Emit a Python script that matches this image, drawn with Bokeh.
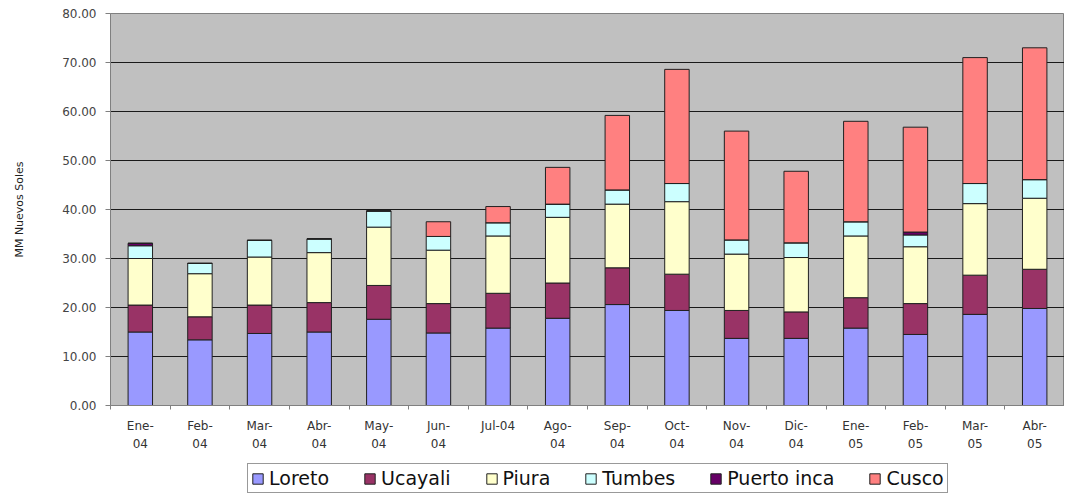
from bokeh.plotting import figure
from bokeh.models import (ColumnDataSource, Legend, LegendItem, FixedTicker,
                          NumeralTickFormatter, Range1d)
from bokeh.layouts import column
from bokeh.embed import file_html
from bokeh.resources import INLINE

months = ["Ene-\n04", "Feb-\n04", "Mar-\n04", "Abr-\n04", "May-\n04", "Jun-\n04",
          "Jul-04", "Ago-\n04", "Sep-\n04", "Oct-\n04", "Nov-\n04", "Dic-\n04",
          "Ene-\n05", "Feb-\n05", "Mar-\n05", "Abr-\n05"]
series_names = ["Loreto", "Ucayali", "Piura", "Tumbes", "Puerto inca", "Cusco"]
colors = ["#9999FF", "#993366", "#FFFFCC", "#CCFFFF", "#660066", "#FF8080"]

loreto = [15.0, 13.4, 14.7, 15.0, 17.6, 14.8, 15.8, 17.8, 20.6, 19.4, 13.7, 13.7, 15.8, 14.5, 18.6, 19.8]
ucayali = [5.5, 4.7, 5.8, 6.0, 6.9, 6.0, 7.1, 7.2, 7.5, 7.4, 5.7, 5.4, 6.2, 6.3, 8.0, 8.0]
piura = [9.5, 8.8, 9.8, 10.2, 11.9, 10.9, 11.7, 13.4, 13.0, 14.8, 11.5, 11.1, 12.6, 11.6, 14.6, 14.5]
tumbes = [2.6, 2.1, 3.4, 2.8, 3.3, 2.8, 2.7, 2.7, 2.9, 3.7, 2.9, 3.0, 2.9, 2.4, 4.1, 3.8]
puerto_inca = [0.5, 0, 0, 0, 0, 0, 0, 0, 0, 0, 0, 0, 0, 0.6, 0, 0]
cusco = [0, 0, 0, 0, 0, 3.0, 3.3, 7.5, 15.2, 23.3, 22.2, 14.6, 20.5, 21.4, 25.7, 26.9]

y_ticks = [0, 10, 20, 30, 40, 50, 60, 70, 80]

xs = list(range(len(months)))
data = {"x": xs, "Loreto": loreto, "Ucayali": ucayali, "Piura": piura,
        "Tumbes": tumbes, "Puerto inca": puerto_inca, "Cusco": cusco}
source = ColumnDataSource(data)

W = 1064
p = figure(width=W, height=462, output_backend="svg", toolbar_location=None,
           x_range=Range1d(-0.5, len(months) - 0.5), y_range=Range1d(0, 80),
           min_border_left=110, min_border_top=13, min_border_right=0,
           min_border_bottom=57)
p.background_fill_color = "#C0C0C0"
p.border_fill_color = "white"
p.outline_line_color = "#808080"
p.outline_line_width = 1

renderers = p.vbar_stack(series_names, x="x", width=0.41, source=source,
                         fill_color=colors, line_color="#202020", line_width=1)

# grid
p.xgrid.visible = False
p.ygrid.ticker = FixedTicker(ticks=y_ticks)
p.ygrid.grid_line_color = "#1a1a1a"
p.ygrid.grid_line_width = 1

# y axis
p.yaxis.ticker = FixedTicker(ticks=y_ticks)
p.yaxis.formatter = NumeralTickFormatter(format="0.00")
p.yaxis.axis_label = "MM Nuevos Soles"
p.yaxis.axis_label_text_font = "DejaVu Sans"
p.yaxis.axis_label_text_font_size = "11px"
p.yaxis.axis_label_text_font_style = "normal"
p.yaxis.axis_label_text_color = "#222222"
p.yaxis.axis_label_standoff = 33
p.yaxis.major_label_text_font = "DejaVu Sans"
p.yaxis.major_label_text_font_size = "12px"
p.yaxis.major_label_text_color = "#444444"
p.yaxis.axis_line_color = "#808080"
p.yaxis.major_tick_line_color = "#808080"
p.yaxis.major_tick_out = 5
p.yaxis.major_tick_in = 0
p.yaxis.minor_tick_line_color = None
p.yaxis.major_label_standoff = 9

# x axis
boundaries = [i + 0.5 for i in range(-1, len(months))]
p.xaxis.ticker = FixedTicker(ticks=xs, minor_ticks=boundaries)
p.xaxis.major_label_overrides = {i: m for i, m in enumerate(months)}
p.xaxis.major_label_text_font = "DejaVu Sans"
p.xaxis.major_label_text_font_size = "12px"
p.xaxis.major_label_text_color = "#333333"
p.xaxis.major_label_text_line_height = 1.3
p.xaxis.axis_line_color = "#808080"
p.xaxis.major_tick_line_color = None
p.xaxis.minor_tick_line_color = "#808080"
p.xaxis.minor_tick_out = 4
p.xaxis.minor_tick_in = 0
p.xaxis.major_label_standoff = 7

# legend strip below the chart (swatches kept out of view)
lg = figure(width=W, height=33, output_backend="svg", toolbar_location=None,
            x_range=Range1d(0, 1), y_range=Range1d(0, 1),
            min_border_left=0, min_border_right=0, min_border_top=0, min_border_bottom=0)
lg.axis.visible = False
lg.grid.visible = False
lg.outline_line_color = None
lg.background_fill_color = "white"
swatch_src = ColumnDataSource({"x": [-10], "top": [0]})
dummies = [lg.vbar(x="x", top="top", width=0.1, source=swatch_src,
                   fill_color=c, line_color="#202020") for c in colors]

legend = Legend(items=[LegendItem(label=n, renderers=[r]) for n, r in zip(series_names, dummies)],
                orientation="horizontal", location=(137, 2))
legend.label_text_font = "DejaVu Sans"
legend.label_text_font_size = "19px"
legend.label_text_color = "#111111"
legend.border_line_color = "#333333"
legend.border_line_width = 1
legend.background_fill_color = "white"
legend.glyph_width = 13
legend.glyph_height = 13
legend.label_standoff = 5
legend.spacing = 34
legend.padding = 3
legend.margin = 0
lg.add_layout(legend, "center")

layout = column(p, lg, spacing=0)
open("out.html", "w").write(file_html(layout, INLINE))
